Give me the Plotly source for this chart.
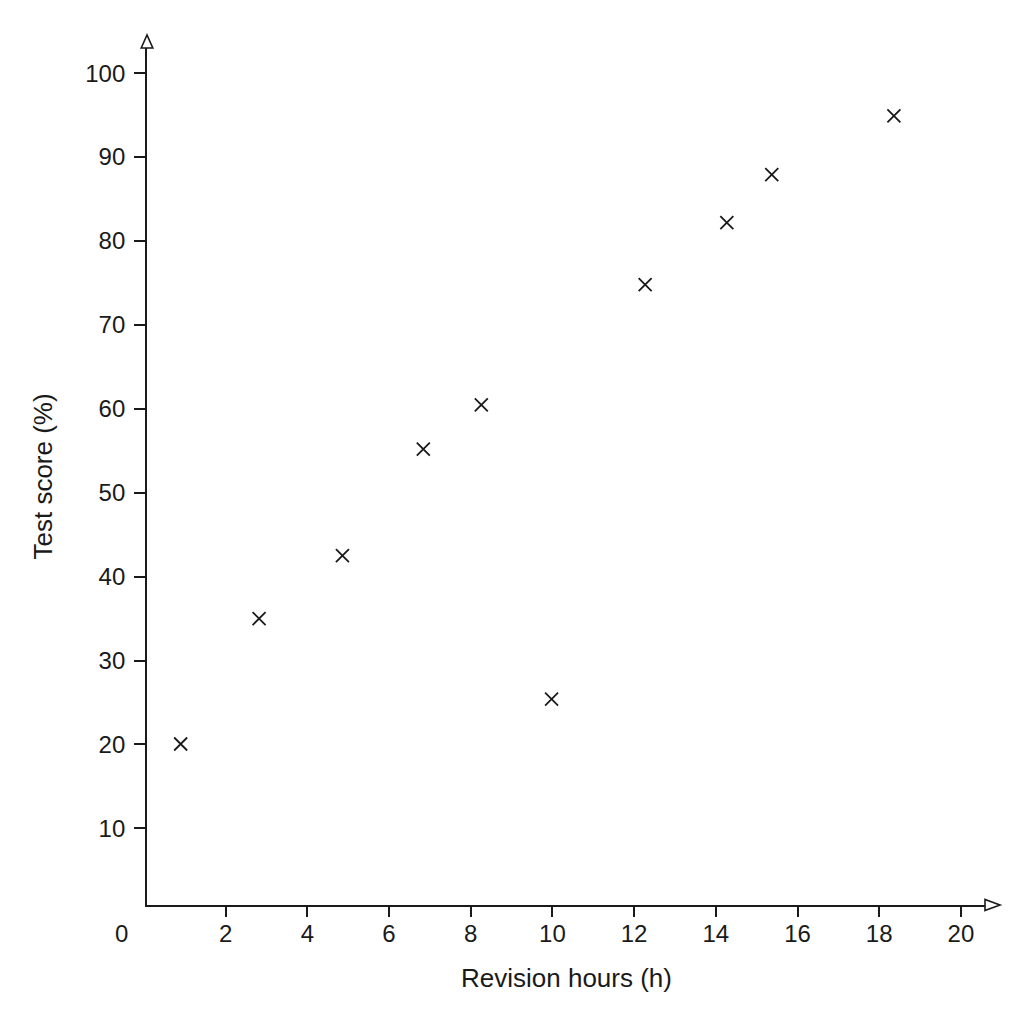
import plotly.graph_objects as go

# Data
revision_hours = [0.9, 2.82, 4.86, 6.84, 8.26, 9.98, 12.27, 14.27, 15.37, 18.36]
test_scores = [20.05, 35.0, 42.5, 55.2, 60.46, 25.4, 74.8, 82.2, 87.9, 94.9]
x_ticks = [2, 4, 6, 8, 10, 12, 14, 16, 18, 20]
y_ticks = [10, 20, 30, 40, 50, 60, 70, 80, 90, 100]

FONT = "Liberation Sans, Arial, Helvetica, sans-serif"
INK = "#1a1a1a"

fig = go.Figure()
fig.add_trace(go.Scatter(
    x=revision_hours, y=test_scores, mode="markers",
    marker=dict(symbol="x-thin-open", size=13, color=INK,
                line=dict(width=1.8, color=INK)),
    showlegend=False, cliponaxis=False,
))

W, H = 1024, 1024
L, R, T, B = 139, 47, 40, 127

fig.update_layout(
    width=W, height=H,
    margin=dict(l=L, r=R, t=T, b=B),
    paper_bgcolor="white", plot_bgcolor="white",
    font=dict(family=FONT, size=24, color=INK),
    xaxis=dict(range=[0.076, 20.59], tickmode="array", tickvals=x_ticks,
               ticks="outside", ticklen=10, tickwidth=1.6, tickcolor=INK,
               showline=True, linewidth=1.8, linecolor=INK,
               showgrid=False, zeroline=False, ticklabelstandoff=-4),
    yaxis=dict(range=[0.86, 103.0], tickmode="array", tickvals=y_ticks,
               ticks="outside", ticklen=11, tickwidth=1.6, tickcolor=INK,
               showline=True, linewidth=1.8, linecolor=INK,
               showgrid=False, zeroline=False, ticklabelstandoff=4),
    annotations=[
        dict(text="Revision hours (h)", xref="paper", yref="paper", x=0.5, y=0,
             yshift=-73, showarrow=False, xanchor="center", yanchor="middle",
             font=dict(size=26, family=FONT, color=INK)),
        dict(text="Test score (%)", xref="paper", yref="paper", x=0, y=0.5,
             xshift=-105, showarrow=False, xanchor="center", yanchor="middle",
             textangle=-90, font=dict(size=26, family=FONT, color=INK)),
        dict(text="0", xref="paper", yref="paper", x=0, y=0,
             xshift=-26, yshift=-28, showarrow=False, xanchor="center",
             yanchor="middle", font=dict(size=24, family=FONT, color=INK)),
    ],
    shapes=[
        # x-axis arrowhead (open triangle)
        dict(type="path", xref="paper", yref="paper", xsizemode="pixel",
             ysizemode="pixel", xanchor=1, yanchor=0,
             path="M 0 -5.5 L 15 0 L 0 5.5 Z",
             line=dict(color=INK, width=1.6), fillcolor="white"),
        # y-axis arrowhead (open triangle)
        dict(type="path", xref="paper", yref="paper", xsizemode="pixel",
             ysizemode="pixel", xanchor=0, yanchor=1,
             path="M -5.8 0 L 0 13 L 5.8 0 Z",
             line=dict(color=INK, width=1.6), fillcolor="white"),
    ],
)

fig.write_html("out.html")
